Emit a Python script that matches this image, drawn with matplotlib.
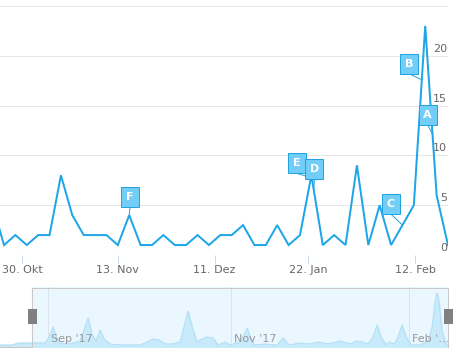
import numpy as np
import matplotlib.pyplot as plt
from matplotlib.patches import Rectangle

# main series (one value per data point, ordinal x axis)
values = [5, 1, 2, 1, 2, 2, 8, 4, 2, 2, 2, 1, 4, 1, 1, 2, 1, 1, 2, 1,
          2, 2, 3, 1, 1, 3, 1, 2, 8, 1, 2, 1, 9, 1, 5, 1, 3, 5, 23, 6, 1]
x_ticks = [2.6, 11.0, 19.5, 27.7, 37.1]
x_labels = ["30. Okt", "13. Nov", "11. Dez", "22. Jan", "12. Feb"]
y_ticks = [0, 5, 10, 15, 20]

# flags: title, anchor on series (x), box centre (x, y)
flag_titles = ["F", "E", "D", "C", "B", "A"]
flag_anchor_x = [12.0, 27.96, 28.2, 36.0, 37.7, 38.64]
flag_box_x = [12.07, 26.74, 28.27, 34.99, 36.57, 38.2]
flag_box_y = [5.8, 9.2, 8.6, 5.1, 19.2, 14.1]

# navigator series
nav_x = [0, 12, 18, 32, 45, 49, 53, 56, 60, 70, 80, 84, 88, 92, 96, 100, 104, 110,
         120, 140, 147, 153, 159, 165, 172, 180, 184, 188, 192, 197, 202, 207, 213,
         218, 225, 230, 240, 244, 247, 250, 254, 265, 277, 283, 289, 300, 310, 318,
         328, 340, 350, 357, 362, 368, 373, 377, 381, 386, 389, 394, 398, 402, 406,
         411, 420, 428, 432, 435, 437, 439, 442, 446, 448]
nav_h = [2, 2, 4, 4, 4, 10, 20, 10, 4, 3, 6, 17, 29, 12, 6, 17, 8, 3, 2, 2, 5, 8,
         7, 3, 3, 5, 20, 36, 20, 5, 8, 10, 9, 2, 5, 2, 5, 12, 19, 10, 2, 3, 2, 9, 2,
         4, 3, 5, 3, 6, 3, 6, 5, 3, 10, 22, 10, 2, 5, 3, 10, 22, 10, 2, 2, 6, 20, 45,
         54, 45, 15, 3, 2]
nav_ticks = [48, 231, 409]
nav_labels = ["Sep '17", "Nov '17", "Feb '\u2026"]

LINE = "#1ea6e8"
FLAG_FILL = "#72cdf7"
FLAG_EDGE = "#24a3e3"
GRID = "#e6e6e6"
LABEL = "#666666"
PX = 0.72  # one pixel in points

W, H = 474, 353
fig = plt.figure(figsize=(W / 100, H / 100), dpi=100)


def box(left, top, right, bottom):
    return [left / W, 1 - bottom / H, (right - left) / W, (bottom - top) / H]


# ---- main chart
ax = fig.add_axes(box(0, 6, 448, 255))
idx = np.arange(len(values))
ax.set_xlim(0.649, 40)
ax.set_ylim(0, 25)
for s in ax.spines.values():
    s.set_visible(False)
for v in [5, 10, 15, 20, 25]:
    ax.axhline(v, color=GRID, lw=PX, zorder=0)
ax.axhline(0, color="#ccd6eb", lw=PX, zorder=0)

ax.plot(idx, values, color=LINE, lw=2 * PX, zorder=2, solid_joinstyle="miter")

ax.set_yticks([])
ax.set_xticks(x_ticks)
ax.set_xticklabels(x_labels, fontsize=8, color=LABEL)
ax.tick_params(axis="x", length=6, width=PX, color="#ccd6eb", pad=1)

for v in y_ticks:
    ax.annotate(str(v), xy=(1, v), xycoords=("axes fraction", "data"),
                xytext=(-1, 7), textcoords="offset pixels",
                ha="right", va="center", fontsize=8, color=LABEL)

bw, bh = 18 / 11.385, 2.0
anchor_y = np.interp(flag_anchor_x, idx, values)
for t, axx, ayy, bx, by in zip(flag_titles, flag_anchor_x, anchor_y,
                               flag_box_x, flag_box_y):
    ax.plot([bx, axx], [by - bh / 2, ayy], color=FLAG_EDGE, lw=PX, zorder=3)
    ax.add_patch(Rectangle((bx - bw / 2, by - bh / 2), bw, bh,
                           facecolor=FLAG_FILL, edgecolor=FLAG_EDGE,
                           lw=PX, zorder=4))
    ax.text(bx, by, t, ha="center", va="center", color="white",
            fontsize=8, fontweight="bold", zorder=5)

# ---- navigator
nav = fig.add_axes(box(0, 287, 448, 347))
nav.set_xlim(0, 448)
nav.set_ylim(0, 60)
nav.axis("off")
nav.axvspan(32, 448, color="#eaf7fe", zorder=0)
for t in nav_ticks:
    nav.axvline(t, color="#dde3ea", lw=PX, zorder=1)
nav.fill_between(nav_x, nav_h, color="#c9eafa", zorder=2)
nav.plot(nav_x, nav_h, color="#b0dff6", lw=PX, zorder=2)
for t, lab in zip(nav_ticks, nav_labels):
    nav.text(t + 3, 8, lab, ha="left", va="center", fontsize=8,
             color="#999999", zorder=3)
nav.plot([0, 32, 32, 448, 448], [0.5, 0.5, 59.5, 59.5, 0.5],
         color="#c8c8c8", lw=PX, zorder=4, clip_on=False)
nav.plot([32, 448], [0.5, 0.5], color="#c8c8c8", lw=PX, zorder=4)
for hx in [32, 448]:
    nav.add_patch(Rectangle((hx - 4.5, 23), 9, 15, facecolor="#808080",
                            edgecolor="none", zorder=5, clip_on=False))

fig.savefig("out.png", dpi=100)
